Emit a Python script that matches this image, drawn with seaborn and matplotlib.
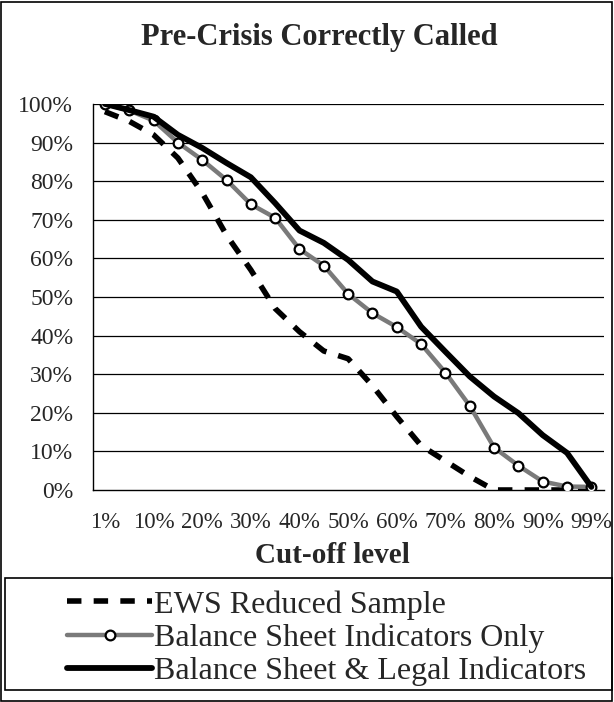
import numpy as np
import pandas as pd
import matplotlib
matplotlib.use('Agg')
import matplotlib.pyplot as plt
import seaborn as sns
from matplotlib.patches import Rectangle

cutoffs = ['1%', '5%', '10%', '15%', '20%', '25%', '30%', '35%', '40%', '45%', '50%',
           '55%', '60%', '65%', '70%', '75%', '80%', '85%', '90%', '95%', '99%']
ews = [0.98, 0.955, 0.92, 0.86, 0.77, 0.66, 0.57, 0.47, 0.41, 0.36, 0.34,
       0.27, 0.19, 0.115, 0.075, 0.035, 0.0, 0.0, 0.0, 0.0, 0.0]
bs_only = [1.0, 0.983, 0.957, 0.90, 0.855, 0.803, 0.74, 0.705, 0.624, 0.581, 0.508,
           0.458, 0.422, 0.378, 0.304, 0.218, 0.11, 0.063, 0.022, 0.009, 0.008]
bs_legal = [1.0, 0.984, 0.967, 0.92, 0.886, 0.847, 0.81, 0.743, 0.672, 0.64, 0.596,
            0.54, 0.514, 0.423, 0.358, 0.294, 0.242, 0.199, 0.142, 0.096, 0.008]
names = ['EWS Reduced Sample', 'Balance Sheet Indicators Only', 'Balance Sheet & Legal Indicators']

sns.set_style('white')
plt.rcParams['font.family'] = ['Liberation Serif', 'DejaVu Serif']

df = pd.DataFrame({'pos': np.arange(len(cutoffs)), 'ews': ews, 'bs': bs_only, 'legal': bs_legal})

fig = plt.figure(figsize=(6.14, 7.02), dpi=100)
ax = fig.add_axes([0.151, 0.302, 0.832, 0.550])

ax.set_ylim(0, 1)
ax.set_xlim(-0.5, len(cutoffs) - 0.5)
for y in np.arange(0.1, 1.01, 0.1):
    ax.axhline(y, color='black', lw=0.9, zorder=1)

sns.lineplot(data=df, x='pos', y='ews', ax=ax, color='black', lw=4,
             linestyle=(0, (2.6, 2.2)), label=names[0], zorder=3)
sns.lineplot(data=df, x='pos', y='bs', ax=ax, color='#7a7a7a', lw=3.2, marker='o',
             markersize=7, markerfacecolor='white', markeredgecolor='black',
             markeredgewidth=1.6, label=names[1], zorder=4)
sns.lineplot(data=df, x='pos', y='legal', ax=ax, color='black', lw=4.2,
             label=names[2], zorder=5)

ax.set_yticks(np.arange(0, 1.01, 0.1))
ax.set_yticklabels([f'{int(round(v * 100))}%' for v in np.arange(0, 1.01, 0.1)], fontsize=17)
ax.set_xticks(np.arange(-0.5, len(cutoffs), 1))
ax.set_xticklabels([])
ax.set_xticks(np.arange(0, len(cutoffs), 2), minor=True)
ax.set_xticklabels(cutoffs[::2], minor=True, fontsize=16.5)
ax.tick_params(axis='x', which='major', direction='out', length=5, width=1, color='black')
ax.tick_params(axis='x', which='minor', length=0, pad=16)
ax.tick_params(axis='y', direction='out', length=5, width=1, color='black', pad=9)
ax.set_xlabel('Cut-off level', fontsize=21, fontweight='bold', labelpad=6)
ax.xaxis.set_label_coords(0.47, -0.135)
ax.set_ylabel('')
for s in ['top', 'right']:
    ax.spines[s].set_visible(False)
for s in ['left', 'bottom']:
    ax.spines[s].set_color('black')
    ax.spines[s].set_linewidth(1)

fig.suptitle('Pre-Crisis Correctly Called', fontsize=22, fontweight='bold', x=0.52, y=0.967)

handles, labels = ax.get_legend_handles_labels()
ax.get_legend().remove()
leg = fig.legend(handles, labels, loc='center left', bbox_to_anchor=(0.089, 0.091),
                 fontsize=23, frameon=False, handlelength=2.65, handletextpad=0.05,
                 labelspacing=0.12, borderaxespad=0)

fig.patches.append(Rectangle((0.008, 0.017), 0.988, 0.16, transform=fig.transFigure,
                             fill=False, edgecolor='black', lw=1.2))
fig.patches.append(Rectangle((0.002, 0.002), 0.995, 0.995, transform=fig.transFigure,
                             fill=False, edgecolor='black', lw=1.2))

fig.savefig('out.png', dpi=100)
